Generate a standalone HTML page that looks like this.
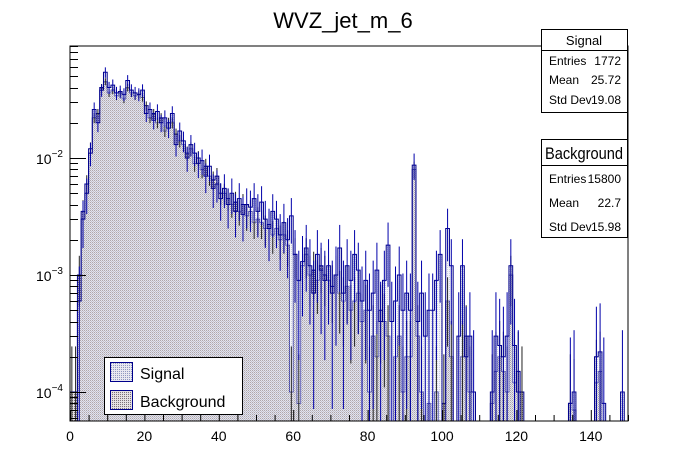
<!DOCTYPE html>
<html><head><meta charset="utf-8"><style>
body{margin:0;background:#fff;}
svg{display:block;font-family:"Liberation Sans",sans-serif;}
</style></head><body>
<svg id="c" width="696" height="472" viewBox="0 0 696 472">
<defs>
<pattern id="pb" width="2" height="2" patternUnits="userSpaceOnUse"><rect width="2" height="2" fill="#e4e0e2"/><rect width="1" height="1" fill="#7a7078"/></pattern>
<pattern id="ps" width="2" height="2" patternUnits="userSpaceOnUse"><rect width="2" height="2" fill="#e8e8f0"/><rect x="1" y="1" width="1" height="1" fill="#9098c0"/></pattern>
</defs>
<text x="343" y="28" font-size="22" text-anchor="middle">WVZ_jet_m_6</text>
<g id="plot"></g>
<rect x="70" y="46" width="558" height="375" fill="none" stroke="#000" stroke-width="1"/>
<g id="axes"></g>
<g>
<rect x="104.5" y="357.5" width="138" height="57" fill="#fff" stroke="#000"/>
<g><rect x="110.5" y="362.5" width="22" height="19" fill="url(#ps)" stroke="#00008b"/><text x="140" y="379" font-size="16">Signal</text></g>
<g><rect x="110.5" y="390.5" width="22" height="19" fill="url(#pb)" stroke="#00008b"/><text x="140" y="407" font-size="16">Background</text></g>
</g>
<line x1="627.5" y1="112" x2="627.5" y2="139" stroke="#000"/>
<g font-size="12">
<rect x="541.5" y="29.5" width="86" height="83" fill="#fff" stroke="#000"/>
<line x1="541.5" y1="50.5" x2="627.5" y2="50.5" stroke="#000"/>
<text x="584" y="45" font-size="13" text-anchor="middle">Signal</text>
<text x="549" y="65">Entries</text><text x="621" y="65" text-anchor="end">1772</text>
<text x="549" y="84">Mean</text><text x="621" y="84" text-anchor="end">25.72</text>
<text x="549" y="104">Std Dev</text><text x="621" y="104" text-anchor="end">19.08</text>
</g>
<g font-size="12">
<rect x="541.5" y="139.5" width="86" height="98" fill="#fff" stroke="#000"/>
<line x1="541.5" y1="165.5" x2="627.5" y2="165.5" stroke="#000"/>
<text x="584" y="159" font-size="17" text-anchor="middle" textLength="78" lengthAdjust="spacingAndGlyphs">Background</text>
<text x="549" y="183">Entries</text><text x="621" y="183" text-anchor="end">15800</text>
<text x="549" y="207">Mean</text><text x="621" y="207" text-anchor="end">22.7</text>
<text x="549" y="231">Std Dev</text><text x="621" y="231" text-anchor="end">15.98</text>
</g>
</svg>
<script>
const binEdgesStart = 0;
const binWidth = 1;
const background = [
1e-4,1e-4,1e-3,3.5e-3,6e-3,0.012,0.022,0.024,0.04,0.045,
0.036,0.038,0.034,0.036,0.032,0.04,0.036,0.034,0.035,0.033,
0.028,0.022,0.024,0.02,0.022,0.017,0.02,0.02,0.016,0.014,
0.013,0.011,0.012,0.009,0.01,0.008,0.0085,0.007,0.0065,0.007,
0.005,0.005,0.0045,0.004,0.0042,0.0035,0.004,0.0032,0.0035,0.0028,
0.003,0.0028,0.0025,0.0027,0.0022,0.0025,0.002,0.0022,0.0018,1e-4,
1.5e-3,8e-5,1.2e-3,1.5e-3,1e-3,1.1e-3,9e-4,1.2e-3,1e-3,9e-4,
8e-4,1e-3,7e-4,6e-4,8e-4,5e-4,6e-4,7e-4,4e-4,5e-4,
1e-4,3e-4,2e-4,5e-4,4e-4,3e-4,0,2e-4,3e-4,1e-4,
2e-4,2e-4,8e-3,3e-4,1e-4,0,8e-5,0,1e-4,0,
8e-5,6e-4,2e-4,0,0,2e-4,3e-4,1e-4,0,0,
0,0,0,8e-5,1.5e-4,2e-4,1.5e-4,1e-4,1e-3,1.2e-4,
1.5e-4,1e-4,0,0,0,0,0,0,0,0,
0,0,0,0,8e-5,7e-5,0,0,0,0,
0,1.2e-4,1.5e-4,0,0,0,0,0,0,0];
const signal = [
0,0,6e-4,3e-3,5e-3,0.011,0.026,0.02,0.038,0.054,
0.04,0.042,0.036,0.037,0.035,0.046,0.038,0.036,0.035,0.038,
0.024,0.026,0.021,0.025,0.02,0.022,0.018,0.024,0.013,0.017,
0.014,0.01,0.013,0.011,0.009,0.0095,0.007,0.0085,0.0055,0.006,
0.0045,0.0055,0.004,0.005,0.0035,0.0045,0.0033,0.004,0.0038,0.0045,
0.0035,0.0042,0.003,0.0025,0.0035,0.003,0.0022,0.0028,0.002,0.0032,
0.0015,0.0009,0.0013,0.0017,0.0012,0.0007,0.0015,0.0011,0.0009,0.0012,
0.0007,0.001,0.0017,0.0007,0.0012,0.0009,0.0015,0.0011,0.0006,0.0009,
0.0005,0.0007,0.0011,0.0004,0.0009,0.0018,0.0004,0.0006,0.001,0.0005,
0.0007,0.0005,0.0087,0.0004,0.0007,0.0003,0.0005,0.0005,0.0009,0.0015,
0,0.0025,0.0012,0,0.0003,0.0012,0.0002,0.0003,0.0001,0,
0,0,0,0.0001,0.0003,0.00025,0.0002,0.0003,0.0012,0.00025,
0.0001,0,0,0,0,0,0,0,0,0,
0,0,0,0,8e-5,1e-4,0,0,0,0,
0,2e-4,2.2e-4,8e-5,0,0,0,0,1e-4,0];
const xTickLabels = [0,20,40,60,80,100,120,140];
const yDecades = [-4,-3,-2];
const signalEntries = 1772;

const NS="http://www.w3.org/2000/svg";
const X0=70,X1=628,Y0=46,Y1=421,XMIN=0,XMAX=150;
const LOGMIN=-4.2564, DEC=117;
function xs(v){return X0+(v-XMIN)/(XMAX-XMIN)*(X1-X0);}
function ys(v){if(!(v>0))return Y1;const y=158-(Math.log10(v)+2)*DEC;return Math.min(Y1,Math.max(Y0,y));}
function mk(tag,attrs,parent){const e=document.createElementNS(NS,tag);for(const k in attrs)e.setAttribute(k,attrs[k]);parent.appendChild(e);return e;}
const plot=document.getElementById('plot');
function hist(vals,fill,name,op){
  let d='M'+xs(binEdgesStart)+','+Y1;
  vals.forEach((v,i)=>{const a=xs(binEdgesStart+i*binWidth),b=xs(binEdgesStart+(i+1)*binWidth),y=ys(v);d+=' L'+a+','+y+' L'+b+','+y;});
  d+=' L'+xs(binEdgesStart+vals.length*binWidth)+','+Y1+' Z';
  const p=mk('path',{d:d,fill:fill,'fill-opacity':op,stroke:'#00008b','stroke-width':1},plot);
  
  
}
hist(background,'url(#pb)','background-histogram',1);
hist(signal,'url(#ps)','signal-histogram',0.45);
[[background,15800*0.3],[signal,signalEntries]].forEach(([vals,n],k)=>{
  vals.forEach((v,i)=>{
    if(!(v>0))return;
    const e=Math.sqrt(v/n);
    const cx=xs(binEdgesStart+(i+0.5)*binWidth);
    const l=mk('line',{x1:cx,x2:cx,y1:ys(v+e),y2:(v-e>0?ys(v-e):Y1),stroke:k?'#0000aa':'#222','stroke-width':1},plot);
    
    
  });
});
const axes=document.getElementById('axes');
for(let v=0;v<=150;v+=5){
  const x=xs(v)+0.5,major=v%20===0;
  const t=mk('line',{x1:x,x2:x,y1:Y1,y2:Y1-(major?11:6),stroke:'#000'},axes);
  
  
}
xTickLabels.forEach(v=>{
  const t=mk('text',{x:xs(v),y:441,'font-size':14,'text-anchor':'middle'},axes);
  t.textContent=v;
  
  
});
for(let d=-5;d<=-1;d++){
  for(let m=1;m<=9;m++){
    const v=m*Math.pow(10,d),lv=Math.log10(v);
    if(lv<LOGMIN||lv>-1.04)continue;
    const y=Math.round(ys(v))+0.5;
    const t=mk('line',{x1:X0,x2:X0+(m===1?16:8),y1:y,y2:y,stroke:'#000'},axes);
    
    
  }
}
yDecades.forEach(d=>{
  const t=mk('text',{x:36,y:ys(Math.pow(10,d))+6,'font-size':14},axes);
  
  
  t.textContent='10';
  const s=mk('tspan',{dy:-7,'font-size':10},t);
  s.textContent=String(d).replace('-','\u2212');
});
</script>
</body></html>
